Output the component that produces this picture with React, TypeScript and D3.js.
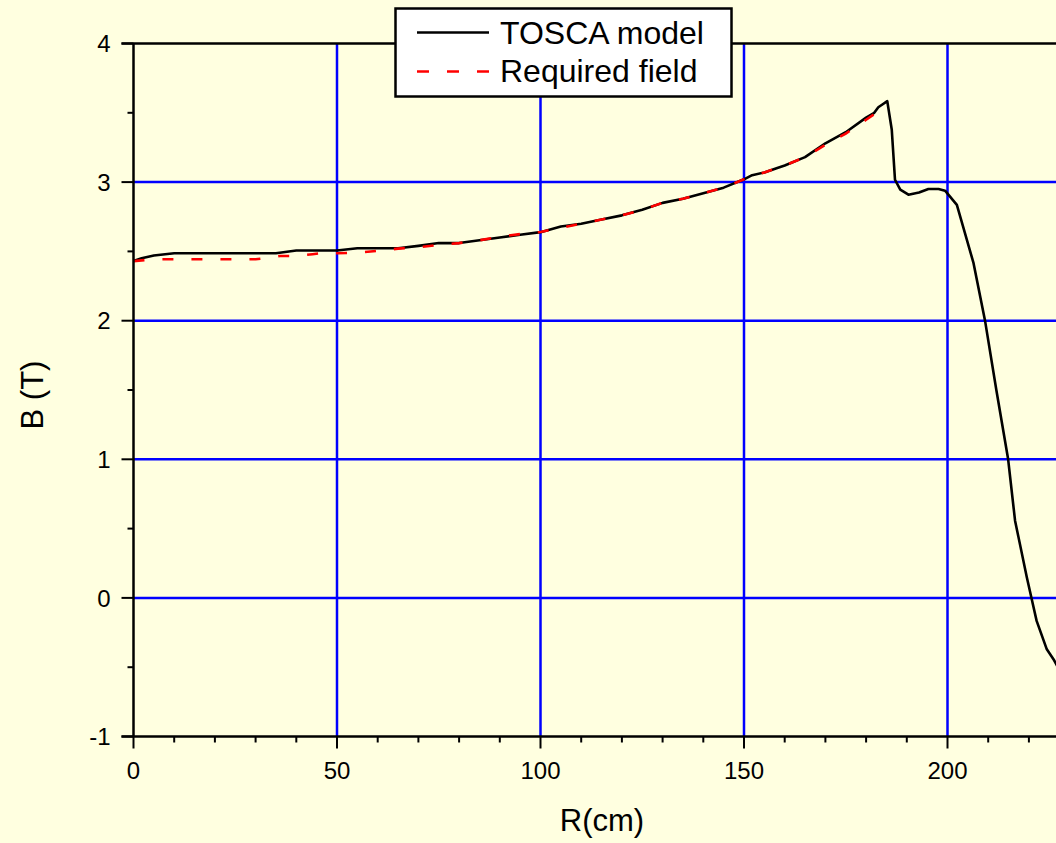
import React from "react";
import * as d3 from "d3";

const toscaR = [0, 2, 5, 10, 20, 30, 35, 40, 45, 50, 55, 60, 65, 70, 75, 80, 85, 90, 95, 100, 105, 110, 115, 120, 125, 130, 135, 140, 145, 150, 152, 155, 158, 160, 165, 170, 175, 180, 182, 183, 184, 185.2, 186.3, 187.1, 188.4, 190.4, 193, 195.3, 197.8, 199.4, 202.3, 206.4, 209.2, 212, 214.9, 216.6, 219.5, 220.7, 221.9, 224.4, 226.2, 228];
const toscaB = [2.43, 2.45, 2.47, 2.487, 2.487, 2.487, 2.487, 2.506, 2.506, 2.506, 2.523, 2.523, 2.523, 2.54, 2.56, 2.56, 2.58, 2.6, 2.62, 2.639, 2.68, 2.7, 2.73, 2.76, 2.8, 2.85, 2.88, 2.92, 2.96, 3.02, 3.05, 3.07, 3.1, 3.12, 3.18, 3.28, 3.36, 3.465, 3.5, 3.54, 3.56, 3.584, 3.38, 3.017, 2.945, 2.909, 2.925, 2.95, 2.95, 2.938, 2.836, 2.415, 2.004, 1.5, 1.0, 0.557, 0.147, -0.01, -0.166, -0.371, -0.45, -0.55];

const reqR = [0, 5, 10, 20, 30, 32, 36, 40, 44, 46, 50, 55, 60, 65, 70, 75, 80, 85, 90, 95, 100, 105, 110, 115, 120, 125, 130, 135, 140, 145, 150, 155, 160, 165, 170, 175, 180, 185];
const reqB = [2.43, 2.443, 2.443, 2.443, 2.443, 2.45, 2.467, 2.467, 2.48, 2.487, 2.487, 2.49, 2.504, 2.52, 2.53, 2.547, 2.56, 2.58, 2.607, 2.625, 2.64, 2.67, 2.7, 2.73, 2.76, 2.8, 2.85, 2.88, 2.92, 2.96, 3.02, 3.07, 3.12, 3.18, 3.27, 3.35, 3.45, 3.55];

const xMajor = [0, 50, 100, 150, 200];
const yMajor = [-1, 0, 1, 2, 3, 4];
const xLabels = ["0", "50", "100", "150", "200"];
const yLabels = ["-1", "0", "1", "2", "3", "4"];
const legendLabels = ["TOSCA model", "Required field"];

const W = 1056;
const H = 843;
const FONT = "Arial, 'Liberation Sans', Helvetica, sans-serif";

export default function App() {
  const x = d3.scaleLinear().domain([0, 250]).range([133.5, 1151]);
  const y = d3.scaleLinear().domain([-1, 4]).range([736.5, 43.5]);
  const x0 = x(0);
  const xEnd = x(250);
  const yTop = y(4);
  const yBot = y(-1);

  const tosca = toscaR.map((r, i) => [r, toscaB[i]] as [number, number]);
  const req = reqR.map((r, i) => [r, reqB[i]] as [number, number]);
  const line = d3
    .line<[number, number]>()
    .x((d) => x(d[0]))
    .y((d) => y(d[1]));

  const xMinor = d3.range(0, 251, 10).filter((v) => v % 50 !== 0);
  const yMinor = d3.range(-1, 4.01, 0.5).filter((v) => Math.abs(v - Math.round(v)) > 0.01);

  return (
    <svg
      width={W}
      height={H}
      style={{ position: "absolute", left: 0, top: 0, display: "block" }}
    >
      <defs>
        <clipPath id="plot">
          <rect x={x0} y={yTop} width={xEnd - x0} height={yBot - yTop} />
        </clipPath>
      </defs>
      <rect x={0} y={0} width={W} height={H} fill="#FFFFE0" />

      {/* grid */}
      {xMajor
        .filter((v) => v !== 0)
        .map((v) => (
          <line key={"gx" + v} x1={x(v)} x2={x(v)} y1={yTop} y2={yBot} stroke="#0000FF" strokeWidth={2.5} />
        ))}
      {yMajor
        .filter((v) => v !== -1 && v !== 4)
        .map((v) => (
          <line key={"gy" + v} x1={x0} x2={xEnd} y1={y(v)} y2={y(v)} stroke="#0000FF" strokeWidth={2.5} />
        ))}

      {/* curves */}
      <g clipPath="url(#plot)">
        <path d={line(tosca) || ""} fill="none" stroke="#000" strokeWidth={2.6} strokeLinejoin="round" />
        <path d={line(req) || ""} fill="none" stroke="#FF0000" strokeWidth={2.6} strokeDasharray="11,18" />
      </g>

      {/* axes */}
      <line x1={x0} x2={x0} y1={yTop} y2={yBot} stroke="#000" strokeWidth={2.5} />
      <line x1={x0 - 12} x2={xEnd} y1={yBot} y2={yBot} stroke="#000" strokeWidth={2.5} />
      <line x1={x0 - 12} x2={xEnd} y1={yTop} y2={yTop} stroke="#000" strokeWidth={2.5} />

      {yMajor.map((v, i) => (
        <g key={"yt" + v}>
          <line x1={x0 - 12} x2={x0} y1={y(v)} y2={y(v)} stroke="#000" strokeWidth={2} />
          <text x={x0 - 23} y={y(v)} dy="0.36em" textAnchor="end" fontFamily={FONT} fontSize={24} fill="#000">
            {yLabels[i]}
          </text>
        </g>
      ))}
      {yMinor.map((v) => (
        <line key={"ym" + v} x1={x0 - 6} x2={x0} y1={y(v)} y2={y(v)} stroke="#000" strokeWidth={2} />
      ))}

      {xMajor.map((v, i) => (
        <g key={"xt" + v}>
          <line x1={x(v)} x2={x(v)} y1={yBot} y2={yBot + 12} stroke="#000" strokeWidth={2} />
          <text x={x(v)} y={779} textAnchor="middle" fontFamily={FONT} fontSize={24} fill="#000">
            {xLabels[i]}
          </text>
        </g>
      ))}
      {xMinor.map((v) => (
        <line key={"xm" + v} x1={x(v)} x2={x(v)} y1={yBot} y2={yBot + 6} stroke="#000" strokeWidth={2} />
      ))}

      {/* axis titles */}
      <text x={602} y={831} textAnchor="middle" fontFamily={FONT} fontSize={31} fill="#000">
        R(cm)
      </text>
      <text
        transform="translate(43,395) rotate(-90)"
        textAnchor="middle"
        fontFamily={FONT}
        fontSize={31}
        fill="#000"
      >
        B (T)
      </text>

      {/* legend */}
      <rect x={395.5} y={8.5} width={336} height={88} fill="#FFFFFF" stroke="#000" strokeWidth={2.5} />
      <line x1={417} x2={489} y1={32.5} y2={32.5} stroke="#000" strokeWidth={2.6} />
      <line x1={417} x2={489} y1={71.5} y2={71.5} stroke="#FF0000" strokeWidth={2.6} strokeDasharray="12,18" />
      <text x={500} y={43.5} fontFamily={FONT} fontSize={32} fill="#000">
        {legendLabels[0]}
      </text>
      <text x={500} y={81.5} fontFamily={FONT} fontSize={32} fill="#000">
        {legendLabels[1]}
      </text>
    </svg>
  );
}
